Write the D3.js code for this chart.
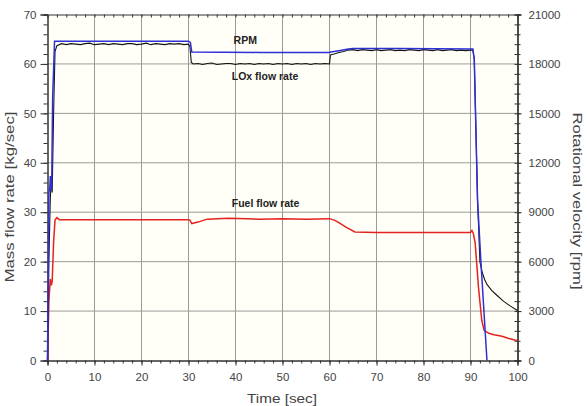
<!DOCTYPE html>
<html><head><meta charset="utf-8">
<script src="https://cdn.jsdelivr.net/npm/d3@7"></script>
<style>
body{margin:0;background:#fff;}
svg{display:block;font-family:"Liberation Sans",Arial,sans-serif;}
.axis text{font-size:11.5px;fill:#444;}
.axis path,.axis line{stroke:#333;}
</style></head><body>
<svg id="chart" width="587" height="406"></svg>
<script>
// ---- data ----
const timeTicks = [0,10,20,30,40,50,60,70,80,90,100];
const massTicks = [0,10,20,30,40,50,60,70];
const rpmTicks = [0,3000,6000,9000,12000,15000,18000,21000];

// RPM [rpm] vs time [sec]
const rpmPoints = [[0,0],[0.3,10200],[0.5,10500],[0.6,11200],[0.8,10300],[0.9,10800],[1.1,16000],[1.5,19380],
 [2,19380],[10,19370],[20,19380],[30,19380],[30.4,19300],[30.7,18720],[45,18700],[60,18690],
 [60.3,18720],[62,18800],[64,18900],[65,18930],[75,18930],[90.5,18900],[90.8,18300],[91.5,9720],[92.2,6060],[93.5,0]];

// LOx flow rate [kg/sec]
const loxPoints = [[0,0],[0.3,20],[0.6,33],[0.8,36],[1.0,34],[1.3,50],[1.6,62.5],
 [2,63.7],[3,64.1],[4,63.9],[5,64.1],[6,64.0],[7,63.9],[8,64.1],[9,64.2],[10,63.9],[11,64.0],[12,64.1],[13,63.9],
 [14,64.1],[15,64.0],[16,63.9],[17,64.1],[18,64.1],[19,63.9],[20,64.0],[21,64.2],[22,63.9],[23,64.1],[24,64.0],
 [25,63.9],[26,64.1],[27,64.0],[28,64.1],[29,63.9],[30,64.0],[30.3,63.5],[30.6,60.3],
 [31,60.0],[32,60.1],[33,59.9],[34,60.1],[35,60.2],[36,59.9],[37,60.0],[38,60.1],[39,60.1],[40,59.9],[41,60.1],
 [42,60.0],[43,60.1],[44,59.9],[45,60.1],[46,60.0],[47,60.1],[48,59.9],[49,60.1],[50,60.0],[51,60.1],[52,59.9],
 [53,60.1],[54,60.0],[55,60.1],[56,59.9],[57,60.1],[58,60.0],[59,60.1],[60,60.0],[60.2,61.8],
 [61,62.0],[62,62.3],[63,62.5],[64,62.8],[65,62.9],[66,62.7],[67,62.9],[68,62.8],[69,62.7],[70,62.9],[71,62.7],
 [72,62.8],[73,62.9],[74,62.7],[75,62.8],[76,62.7],[77,62.9],[78,62.8],[79,62.7],[80,62.9],[81,62.8],[82,62.7],
 [83,62.9],[84,62.7],[85,62.8],[86,62.9],[87,62.7],[88,62.8],[89,62.7],[90,62.8],[90.5,62.8],[90.8,61],
 [91.5,32.5],[92.0,20],[92.5,17.8],[93.0,16.4],[93.5,15.4],[94.5,14.2],[95.6,13.2],[97,12.0],[98.5,11.0],[100,10.1]];

// Fuel flow rate [kg/sec]
const fuelPoints = [[0,0],[0.3,12],[0.6,16.5],[0.8,15.2],[1.0,16],[1.3,24],[1.6,28.4],[2.0,28.9],[2.5,28.5],
 [10,28.5],[20,28.5],[30,28.5],[30.3,28.4],[30.7,27.7],[32,28.0],[34,28.6],[38.5,28.8],[45,28.6],[50,28.7],
 [55,28.6],[60,28.7],[61,28.4],[62,27.9],[63.5,27.0],[65.4,26.0],[70,25.9],[80,25.9],[90,25.9],[90.3,26.3],
 [90.6,25.7],[91.0,23.7],[91.7,14.8],[92.4,8.1],[92.9,6.1],[93.9,5.5],[95,5.2],[96.7,4.9],[98,4.5],[100,4.0]];

const labels = [
 {text:"RPM", t:39.6, v:64.1},
 {text:"LOx flow rate", t:39.2, v:56.7},
 {text:"Fuel flow rate", t:39.2, v:31.0}
];

// ---- chart ----
const svg = d3.select("#chart");
const x = d3.scaleLinear().domain([0,100]).range([47.5,517.5]);
const y = d3.scaleLinear().domain([0,70]).range([360.5,14.5]);
const yR = d3.scaleLinear().domain([0,21000]).range([360.5,14.5]);

svg.append("rect").attr("x",x(0)).attr("y",y(70)).attr("width",x(100)-x(0)).attr("height",y(0)-y(70)).attr("fill","#fffff8");

// grid
const g = svg.append("g");
g.selectAll(".gx").data(timeTicks.slice(1,-1)).join("line")
 .attr("x1",d=>x(d)).attr("x2",d=>x(d)).attr("y1",y(0)).attr("y2",y(70)).attr("stroke","#9a9a9a");
g.selectAll(".gy").data(massTicks.slice(1,-1)).join("line")
 .attr("y1",d=>y(d)).attr("y2",d=>y(d)).attr("x1",x(0)).attr("x2",x(100)).attr("stroke","#9a9a9a");

// axes
const minorT = d3.range(0,101,2), minorM = d3.range(0,71,2), minorR = d3.range(0,21001,600);
svg.append("g").attr("class","axis").attr("transform",`translate(0,${y(0)})`)
 .call(d3.axisBottom(x).tickValues(minorT).tickSize(3).tickFormat(""));
svg.append("g").attr("class","axis").attr("transform",`translate(0,${y(0)})`)
 .call(d3.axisBottom(x).tickValues(timeTicks).tickSize(5).tickPadding(7));
svg.append("g").attr("class","axis").attr("transform",`translate(0,${y(70)})`)
 .call(d3.axisBottom(x).tickValues(minorT).tickSize(3).tickFormat(""));
svg.append("g").attr("class","axis").attr("transform",`translate(${x(0)},0)`)
 .call(d3.axisLeft(y).tickValues(minorM).tickSize(4).tickFormat(""));
svg.append("g").attr("class","axis").attr("transform",`translate(${x(0)},0)`)
 .call(d3.axisLeft(y).tickValues(massTicks).tickSize(7).tickPadding(4));
svg.append("g").attr("class","axis").attr("transform",`translate(${x(100)},0)`)
 .call(d3.axisRight(yR).tickValues(minorR).tickSize(3).tickFormat(""));
svg.append("g").attr("class","axis").attr("transform",`translate(${x(100)},0)`)
 .call(d3.axisLeft(yR).tickValues(minorR).tickSize(3).tickFormat(""));
svg.append("g").attr("class","axis").attr("transform",`translate(${x(100)},0)`)
 .call(d3.axisRight(yR).tickValues(rpmTicks).tickSize(4).tickPadding(7).tickFormat(d3.format("d")));
svg.selectAll(".axis .domain").attr("stroke","#333");

// lines
const lineM = d3.line().x(d=>x(d[0])).y(d=>y(d[1]));
const lineR = d3.line().x(d=>x(d[0])).y(d=>yR(d[1]));
svg.append("path").datum(fuelPoints).attr("d",lineM).attr("fill","none").attr("stroke","#e42320").attr("stroke-width",1.5);
svg.append("path").datum(loxPoints).attr("d",lineM).attr("fill","none").attr("stroke","#151515").attr("stroke-width",1.1);
svg.append("path").datum(rpmPoints).attr("d",lineR).attr("fill","none").attr("stroke","#2f2fd6").attr("stroke-width",1.5);

// annotations
svg.selectAll(".ann").data(labels).join("text")
 .attr("x",d=>x(d.t)).attr("y",d=>y(d.v))
 .attr("font-size",10.5).attr("font-weight","bold").attr("fill","#222")
 .text(d=>d.text);

// axis titles
svg.append("text").attr("x",282).attr("y",403).attr("text-anchor","middle")
 .attr("font-size",12.5).attr("fill","#444").attr("textLength",70).attr("lengthAdjust","spacingAndGlyphs").text("Time [sec]");
svg.append("text").attr("transform","translate(14,197) rotate(-90)").attr("text-anchor","middle")
 .attr("font-size",12.5).attr("fill","#444").attr("textLength",171).attr("lengthAdjust","spacingAndGlyphs").text("Mass flow rate [kg/sec]");
svg.append("text").attr("transform","translate(573,201) rotate(90)").attr("text-anchor","middle")
 .attr("font-size",12.5).attr("fill","#444").attr("textLength",177).attr("lengthAdjust","spacingAndGlyphs").text("Rotational velocity [rpm]");
</script></body></html>
